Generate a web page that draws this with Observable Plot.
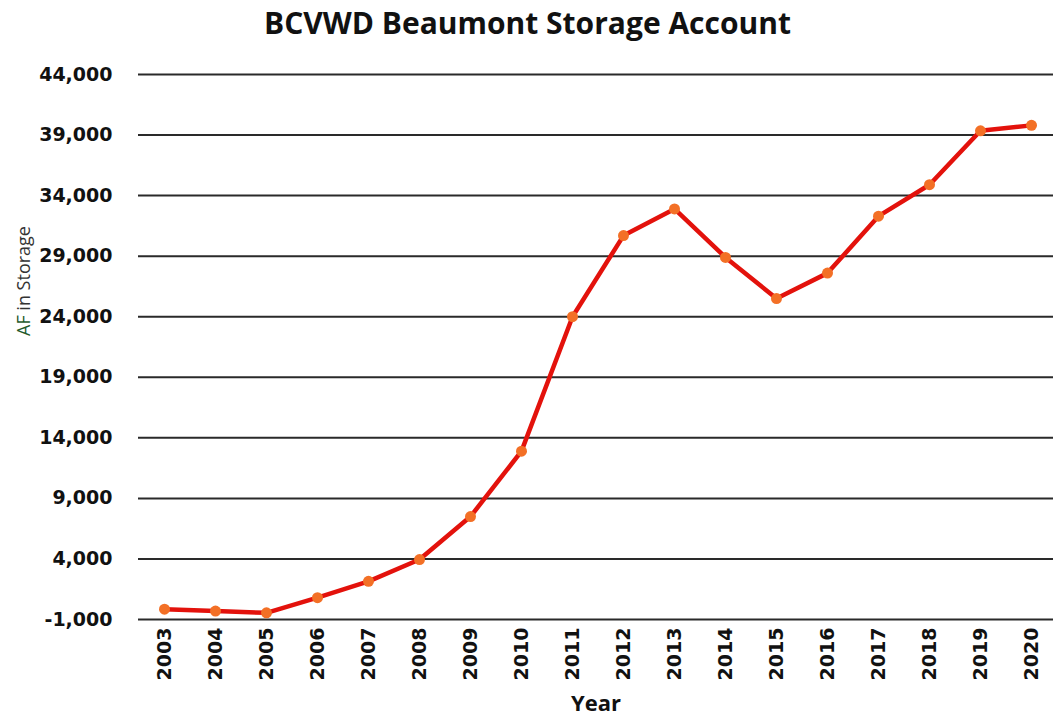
<!DOCTYPE html>
<html>
<head>
<meta charset="utf-8">
<script src="https://cdn.jsdelivr.net/npm/d3@7"></script>
<script src="https://cdn.jsdelivr.net/npm/@observablehq/plot@0.6"></script>
<style>
  html, body { margin: 0; padding: 0; background: #fff; }
  #wrap { width: 1053px; }
  #title {
    height: 44px; line-height: 46px; text-align: center;
    font-family: "Open Sans", sans-serif; font-weight: 700; font-size: 30px;
    color: #111; padding-left: 2px;
  }
  svg { display: block; }
</style>
</head>
<body>
<div id="wrap">
  <div id="title">BCVWD Beaumont Storage Account</div>
  <div id="chart"></div>
</div>
<script>
const years = ["2003","2004","2005","2006","2007","2008","2009","2010","2011","2012","2013","2014","2015","2016","2017","2018","2019","2020"];
const storage = [-150, -300, -450, 800, 2150, 3950, 7500, 12900, 24000, 30700, 32900, 28900, 25500, 27600, 32300, 34900, 39350, 39800];
const yTicks = [-1000, 4000, 9000, 14000, 19000, 24000, 29000, 34000, 39000, 44000];

const data = years.map((y, i) => ({year: y, value: storage[i]}));
const tickFont = {fontFamily: "DejaVu Sans, sans-serif", fontWeight: 700, fontSize: 19, fill: "#111"};

const chart = Plot.plot({
  width: 1053,
  height: 675,
  marginLeft: 138,
  marginRight: 0,
  marginTop: 30,
  marginBottom: 100,
  style: {fontFamily: "Open Sans, sans-serif", background: "#fff", overflow: "visible"},
  x: {type: "point", domain: years, padding: 0.5, insetLeft: -3, insetRight: -7},
  y: {domain: [-1000, 44000]},
  marks: [
    Plot.ruleY(yTicks, {stroke: "#2a2a2a", strokeWidth: 2}),
    Plot.axisY(yTicks, {tickSize: 0, tickPadding: 26, tickFormat: d => d.toLocaleString("en-US"), label: null, ...tickFont}),
    Plot.axisX({tickSize: 0, tickPadding: 8, tickRotate: -90, label: null, ...tickFont}),
    Plot.line(data, {x: "year", y: "value", stroke: "#e3120c", strokeWidth: 4.5}),
    Plot.dot(data, {x: "year", y: "value", r: 5.5, fill: "#f37026", stroke: "none"}),
    Plot.text(["Year"], {frameAnchor: "bottom", dy: 84, lineAnchor: "middle", fontSize: 22, fontWeight: 700, fill: "#111", fontFamily: "Open Sans, sans-serif"}),
    Plot.text(["AF in Storage"], {frameAnchor: "left", textAnchor: "middle", lineAnchor: "middle", rotate: -90, dx: -114, dy: -66, fontSize: 18, fill: "#333", fontFamily: "Open Sans, sans-serif"})
  ]
});

// colour "AF" dark green as in the reference
d3.select(chart).selectAll("text").filter(function() { return this.textContent === "AF in Storage"; })
  .each(function() {
    const t = d3.select(this);
    t.text(null);
    t.append("tspan").attr("fill", "#1f5a2c").text("AF");
    t.append("tspan").text(" in Storage");
  });

document.getElementById("chart").appendChild(chart);
</script>
</body>
</html>
